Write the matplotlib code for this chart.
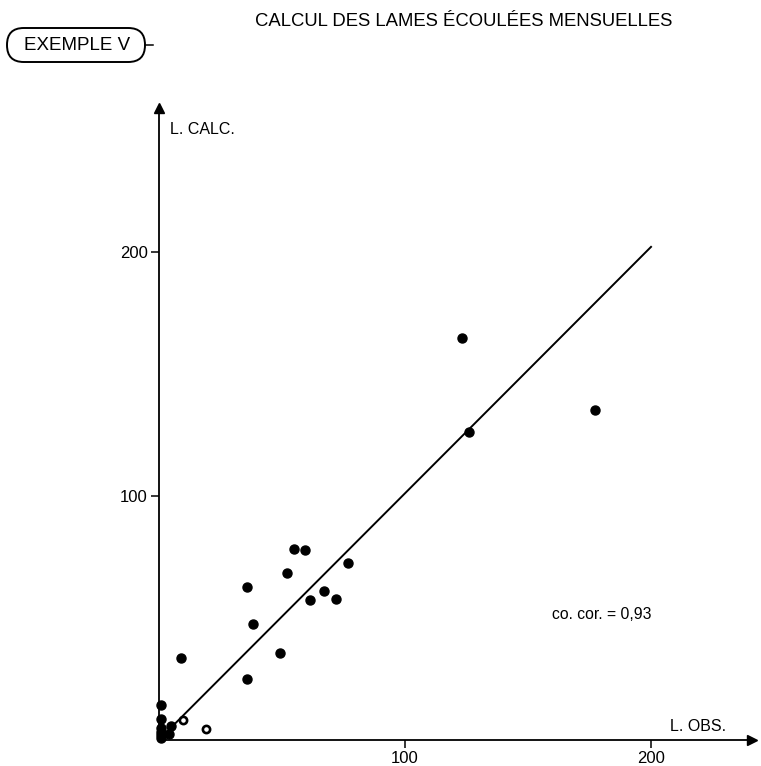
import matplotlib
matplotlib.use('Agg')
import matplotlib.pyplot as plt
from matplotlib.patches import FancyBboxPatch

plt.rcParams['font.family'] = ['Liberation Sans', 'DejaVu Sans']

# Points (L. OBS., L. CALC.)
obs = [123.2, 126.0, 177.2, 54.8, 59.5, 52.2, 76.9, 35.6, 67.1, 61.2, 72.0,
       38.3, 49.2, 35.6, 8.8, 5.0, 4.2, 0.8, 0.8, 0.8, 0.8, 0.8, 0.8]
calc = [164.6, 126.1, 135.1, 78.2, 77.7, 68.2, 72.4, 62.6, 61.1, 57.3, 57.5,
        47.4, 35.7, 24.9, 33.6, 5.6, 2.2, 14.2, 8.3, 4.7, 3.3, 1.9, 0.6]
# points en cercles ouverts
obs_open = [9.9, 19.0]
calc_open = [8.1, 4.4]
# droite d'ajustement
line_x = [4, 200]
line_y = [4, 202]

ticks = [100, 200]
tick_labels = ['100', '200']

fig = plt.figure(figsize=(7.61, 7.66), dpi=100)
ax = fig.add_axes([0, 0, 1, 1])
ax.set_xlim(-64.6, 244.7)
ax.set_ylim(-10.8, 303.2)

ax.plot(line_x, line_y, color='black', lw=1.4)
ax.plot(obs, calc, 'o', color='black', ms=6.5, clip_on=False)
ax.plot(obs_open, calc_open, 'o', mfc='white', mec='black', mew=1.9, ms=5.2)

# axes avec fleches
for s in ['top', 'right']:
    ax.spines[s].set_visible(False)
ax.spines['left'].set_position(('data', 0))
ax.spines['bottom'].set_position(('data', 0))
ax.spines['left'].set_bounds(0, 258)
ax.spines['bottom'].set_bounds(0, 240)
ax.spines['left'].set_linewidth(1.3)
ax.spines['bottom'].set_linewidth(1.3)
ax.plot(0, 259, '^', color='black', ms=7.5, clip_on=False)
ax.plot(241, 0, '>', color='black', ms=7.5, clip_on=False)

ax.set_xticks(ticks)
ax.set_xticklabels(tick_labels)
ax.set_yticks(ticks)
ax.set_yticklabels(tick_labels)
ax.tick_params(direction='out', length=6, width=1.1, labelsize=12, pad=2)

ax.text(4.5, 250, 'L. CALC.', fontsize=11.5, va='center', ha='left')
ax.text(207.7, 5.2, 'L. OBS.', fontsize=11.5, va='center', ha='left')
ax.text(159.8, 51.5, 'co. cor. = 0,93', fontsize=11.3, va='center', ha='left')

fig.text(464 / 761, 1 - 22 / 766, 'CALCUL DES LAMES ÉCOULÉES MENSUELLES',
         fontsize=13.3, ha='center', va='center')

# cartouche "EXEMPLE V"
box = FancyBboxPatch((7 / 761, 1 - 62 / 766), 138 / 761, 34 / 766,
                     boxstyle='round,pad=0,rounding_size=0.022',
                     transform=fig.transFigure, fc='white', ec='black', lw=1.4)
fig.add_artist(box)
fig.text(77 / 761, 1 - 45 / 766, 'EXEMPLE V', fontsize=13.5, ha='center', va='center')
fig.add_artist(plt.Line2D([145 / 761, 153 / 761], [1 - 45 / 766, 1 - 45 / 766],
                          color='black', lw=1.1))

fig.savefig('out.png', dpi=100)
